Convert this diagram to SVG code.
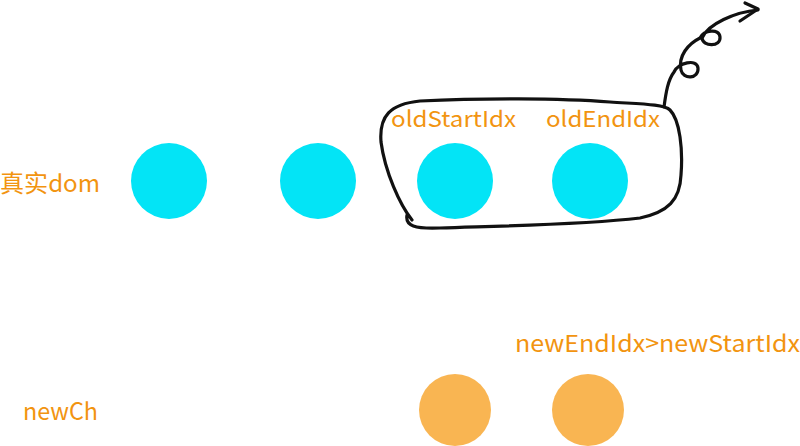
<svg xmlns="http://www.w3.org/2000/svg" width="800" height="446" viewBox="0 0 800 446">
<style>
.lbl{font-family:"Noto Sans CJK SC","Noto Sans",sans-serif;fill:#F29410;}
.real{fill:#03E4F6;}
.vnode{fill:#F9B552;}
.ink{fill:none;stroke:#111;stroke-width:3.2;stroke-linecap:round;stroke-linejoin:round;}
</style>
<rect width="800" height="446" fill="#fff"/>
<g id="label-real"><text class="lbl" x="0" y="192" font-size="24" textLength="100" lengthAdjust="spacingAndGlyphs">真实dom</text></g>
<g id="label-newch"><text class="lbl" x="23" y="420" font-size="24" textLength="75" lengthAdjust="spacingAndGlyphs">newCh</text></g>
<g id="real1"><circle class="real" cx="169" cy="181" r="38"/></g>
<g id="real2"><circle class="real" cx="318" cy="181" r="38"/></g>
<g id="real3"><circle class="real" cx="455" cy="181" r="38"/></g>
<g id="real4"><circle class="real" cx="590" cy="181" r="38"/></g>
<g id="label-oldstart"><text class="lbl" x="391" y="127" font-size="22" textLength="125" lengthAdjust="spacingAndGlyphs">oldStartIdx</text></g>
<g id="label-oldend"><text class="lbl" x="546" y="127" font-size="22" textLength="114" lengthAdjust="spacingAndGlyphs">oldEndIdx</text></g>
<g id="label-newidx"><text class="lbl" x="515" y="352" font-size="23" textLength="285" lengthAdjust="spacingAndGlyphs">newEndIdx&gt;newStartIdx</text></g>
<g id="vnode1"><circle class="vnode" cx="455" cy="410" r="36"/></g>
<g id="vnode2"><circle class="vnode" cx="588" cy="410" r="36"/></g>
<g id="connectors">
<path class="ink" d="M 412 220 C 400 205, 385 172, 381 142 C 379 116, 390 104, 420 101 C 480 98, 560 98, 610 102 C 640 104, 664 104, 670 110 C 680 120, 683 150, 681 175 C 680 200, 668 212, 640 218 C 580 225, 500 226, 440 228 C 415 229, 405 226, 407 215"/>
<path class="ink" d="M 664 107 C 666 92, 668 80, 674 72 C 678 63, 697 58, 698 68 C 699 79, 683 80, 681 70 C 678 56, 688 44, 700 38 C 704 30, 719 28, 720 37 C 721 47, 703 47, 702 38 C 708 24, 735 12, 758 10"/>
<path class="ink" d="M 745 3 L 758 9 L 740 21"/>
</g>
</svg>
